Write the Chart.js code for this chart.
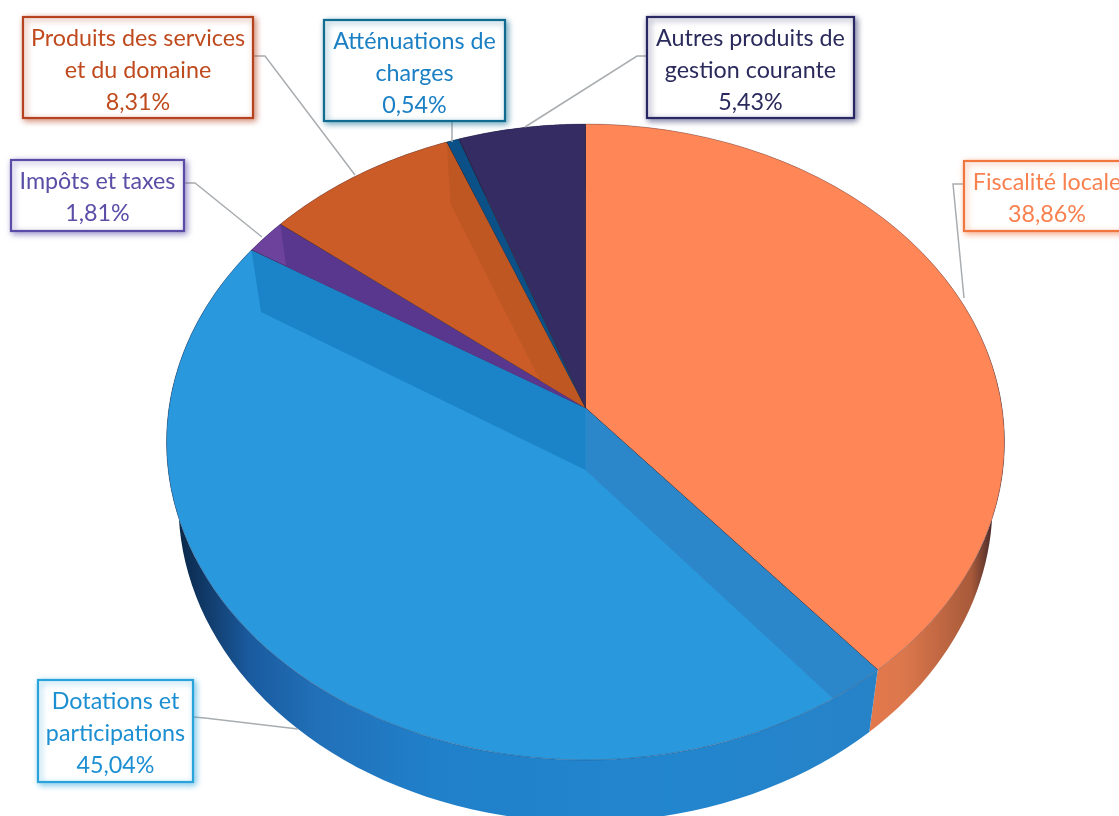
<!DOCTYPE html>
<html><head><meta charset="utf-8">
<style>html,body{margin:0;padding:0;background:#fff;overflow:hidden}canvas{display:block}</style>
<script src="https://cdn.jsdelivr.net/npm/chart.js@4"></script>
</head><body><canvas id="c" width="1119" height="816"></canvas>
<script>
const categories = ["Fiscalité locale","Dotations et participations","Impôts et taxes","Produits des services et du domaine","Atténuations de charges","Autres produits de gestion courante"];
const values = [38.86,45.04,1.81,8.31,0.54,5.43];
const sliceColors = ["#ff8656","#2a98dc","#6c429c","#cb5c27","#0b5187","#352c63"];
const labelLines = [["Fiscalité locale"],["Dotations et","participations"],["Impôts et taxes"],["Produits des services","et du domaine"],["Atténuations de","charges"],["Autres produits de","gestion courante"]];
const textColors = ["#f9804f","#1c8fd2","#5a4ea6","#bf4a1e","#1b7fc4","#2a2a5c"];
const borderColors = ["#f0763f","#2aa2da","#5a4ca6","#b5431f","#0f6b90","#2a2864"];
const boxes = [[964,161,170,70,1047],[38,680,155,102,115.5],[11,160,173,71,97.5],[23,17,230,101,138],[324,20,181,101,414.5],[647,17,207,101,750.5]];
const leaders = [[[963,184],[953,184],[964,298]],[[193,717],[205,718],[298,729]],[[184,183],[195,183],[262,237]],[[253,56],[265,56],[355,175]],[[452,121],[452,142]],[[647,56],[637,56],[525,127]]];
const TOP = {cx:585.5,cy:442,rx:419,ry:318};
const LOW = {cx:585.5,cy:504,rx:407,ry:318};
const K = 0.107;

function rimPoint(a,e){const t=a+Math.PI/2,x=Math.sin(t),y=-Math.cos(t),d=1-K*y;
  return [e.cx+e.rx*x*Math.sqrt(1-K*K)/d, e.cy+e.ry*(y-K)/d];}
function apex(e){return [e.cx,e.cy-e.ry*K];}
function screenAngle(a){const p=rimPoint(a,TOP),o=apex(TOP);return Math.atan2(p[1]-o[1],p[0]-o[0]);}
function ellipsePath(ctx,e){ctx.beginPath();ctx.ellipse(e.cx,e.cy,e.rx,e.ry,0,0,Math.PI*2);}
function rimGradient(ctx,i){
  const g=ctx.createLinearGradient(165,0,1005,0);
  const stops = i===0 ? [[0.8,"#e97a4d"],[0.88,"#dc774c"],[0.96,"#a85a3a"],[0.985,"#4a2a2a"],[1,"#201418"]]
    : i===1 ? [[0,"#07203c"],[0.04,"#0f3560"],[0.1,"#1a5a9e"],[0.18,"#2170b8"],[0.32,"#2080ca"],[0.6,"#2286ce"],[1,"#2a80c4"]]
    : [[0,sliceColors[i]],[1,sliceColors[i]]];
  stops.forEach(s=>g.addColorStop(s[0],s[1]));return g;
}
function drawRim(ctx,arcs){
  arcs.forEach((arc,i)=>{
    const n=80;ctx.beginPath();
    for(let j=0;j<=n;j++){const p=rimPoint(arc.startAngle+(arc.endAngle-arc.startAngle)*j/n,TOP);j?ctx.lineTo(p[0],p[1]):ctx.moveTo(p[0],p[1]);}
    for(let j=n;j>=0;j--){const p=rimPoint(arc.startAngle+(arc.endAngle-arc.startAngle)*j/n,LOW);ctx.lineTo(p[0],p[1]);}
    ctx.closePath();ctx.fillStyle=rimGradient(ctx,i);ctx.fill();
  });
}
function drawFace(ctx,arc){
  const o=apex(TOP),s0=arc.startAngle,e0=arc.endAngle,c0=arc.circumference;
  let s=screenAngle(s0),e=screenAngle(e0);while(e<=s)e+=Math.PI*2;
  ctx.save();ctx.translate(o[0],o[1]);ctx.scale(1.4,1.4);ctx.translate(-arc.x,-arc.y);
  arc.startAngle=s;arc.endAngle=e;arc.circumference=e-s;
  arc.draw(ctx);
  arc.startAngle=s0;arc.endAngle=e0;arc.circumference=c0;
  ctx.restore();
}
function drawWall(ctx,arcs,owner,edge,color){
  const arc=arcs[owner],a=edge==="start"?arc.startAngle:arc.endAngle;
  ctx.save();
  ctx.beginPath();const o=apex(TOP);ctx.moveTo(o[0],o[1]);
  for(let j=0;j<=60;j++){const p=rimPoint(arc.startAngle+(arc.endAngle-arc.startAngle)*j/60,TOP);ctx.lineTo(p[0],p[1]);}
  ctx.closePath();ctx.clip();
  const p=rimPoint(a,TOP),q=rimPoint(a,LOW),l=apex(LOW);
  ctx.beginPath();ctx.moveTo(o[0],o[1]);ctx.lineTo(p[0],p[1]);ctx.lineTo(q[0],q[1]);ctx.lineTo(l[0],l[1]);ctx.closePath();
  ctx.fillStyle=color;ctx.fill();ctx.restore();
}
const solidPie = {
  id:"solidPie",
  beforeDatasetDraw(chart){
    const ctx=chart.ctx,arcs=chart.getDatasetMeta(0).data;
    ctx.save();
    drawRim(ctx,arcs);
    ctx.save();ellipsePath(ctx,TOP);ctx.clip();
    arcs.forEach(a=>drawFace(ctx,a));
    drawWall(ctx,arcs,1,"start","rgba(44,134,200,.92)");
    drawWall(ctx,arcs,1,"end","rgba(26,130,198,.9)");
    drawWall(ctx,arcs,2,"end","rgba(88,54,142,.9)");
    drawWall(ctx,arcs,3,"end","rgba(190,86,34,.9)");
    ctx.restore();
    ellipsePath(ctx,TOP);ctx.strokeStyle="rgba(40,40,70,.3)";ctx.lineWidth=1;ctx.stroke();
    ctx.restore();
    return false;
  },
  afterDraw(chart){
    const ctx=chart.ctx;
    categories.forEach((name,i)=>{
      ctx.save();
      ctx.strokeStyle="#a9adb0";ctx.lineWidth=1.5;ctx.beginPath();
      leaders[i].forEach((p,j)=>j?ctx.lineTo(p[0],p[1]):ctx.moveTo(p[0],p[1]));ctx.stroke();
      const b=boxes[i];
      ctx.fillStyle="#fff";ctx.strokeStyle=borderColors[i];ctx.lineWidth=2.2;
      ctx.shadowColor=borderColors[i]+"99";ctx.shadowBlur=6;ctx.shadowOffsetX=2;ctx.shadowOffsetY=2;
      ctx.fillRect(b[0],b[1],b[2],b[3]);ctx.strokeRect(b[0],b[1],b[2],b[3]);
      ctx.shadowColor="transparent";ctx.shadowBlur=0;ctx.shadowOffsetX=0;ctx.shadowOffsetY=0;
      ctx.fillStyle=textColors[i];ctx.font='23.3px Lato';ctx.textAlign="center";ctx.textBaseline="middle";
      const lines=labelLines[i].concat(values[i].toFixed(2).replace(".",",")+"%");
      lines.forEach((t,j)=>ctx.fillText(t,b[4],b[1]+21+j*32));
      ctx.restore();
    });
  }
};
new Chart(document.getElementById("c"),{
  type:"pie",
  data:{labels:categories,datasets:[{data:values,backgroundColor:sliceColors,borderColor:"rgba(40,35,55,.6)",borderWidth:0.7}]},
  options:{responsive:false,animation:false,
    layout:{padding:{left:52}},
    plugins:{legend:{display:false},tooltip:{enabled:false}}},
  plugins:[solidPie]
});
</script></body></html>
